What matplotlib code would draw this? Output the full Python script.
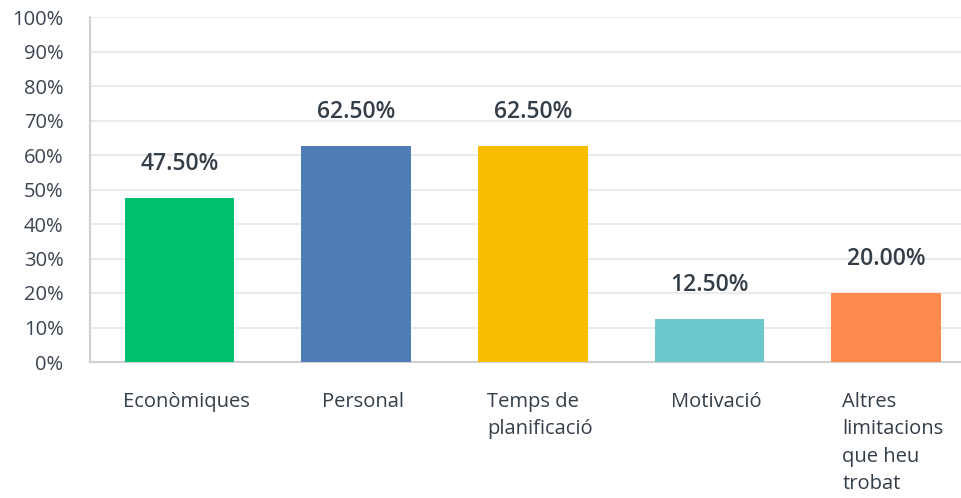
import matplotlib
matplotlib.use('Agg')
import matplotlib.pyplot as plt

plt.rcParams['font.family'] = ['Open Sans', 'DejaVu Sans']

# dades del gràfic
categories = ['Econòmiques', 'Personal', 'Temps de\nplanificació', 'Motivació',
              'Altres\nlimitacions\nque heu\ntrobat']
values = [47.5, 62.5, 62.5, 12.5, 20.0]
colors = ['#00BF6F', '#507CB6', '#F9BE00', '#6BC8CD', '#FF8B4F']
yticks = [0, 10, 20, 30, 40, 50, 60, 70, 80, 90, 100]

text_color = '#333E48'

fig = plt.figure(figsize=(9.62, 4.98), dpi=100)
ax = fig.add_axes([90 / 962, 136 / 498, 872 / 962, 345 / 498])

x = list(range(len(categories)))
bars = ax.bar(x, values, width=0.62, color=colors, zorder=3)

ax.set_xlim(-0.507, 4.43)
ax.set_ylim(0, 100)
ax.set_yticks(yticks)
ax.set_yticklabels([f'{t}%' for t in yticks], fontsize=14.5, color='#3A4450')
ax.tick_params(axis='y', length=0, pad=19)
ax.set_xticks([])

ax.grid(axis='y', color='#EBEBEB', linewidth=1.5, zorder=0)
for s in ['top', 'right']:
    ax.spines[s].set_visible(False)
for s in ['left', 'bottom']:
    ax.spines[s].set_color('#D0D0D0')
    ax.spines[s].set_linewidth(1.5)

# etiquetes de valor
for xi, v in zip(x, values):
    ax.annotate(f'{v:.2f}%', xy=(xi, v), xytext=(0, 24.5), textcoords='offset points',
                ha='center', va='center', fontsize=16.5, fontweight='semibold',
                color=text_color)

# etiquetes de categoria
for xi, lab in zip(x, categories):
    ax.annotate(lab, xy=(xi, 0), xycoords=('data', 'axes fraction'),
                xytext=(5, -21.5), textcoords='offset points',
                ha='center', va='top', multialignment='left', linespacing=1.5,
                fontsize=14.5, color=text_color)

fig.savefig('out.png', dpi=100)
